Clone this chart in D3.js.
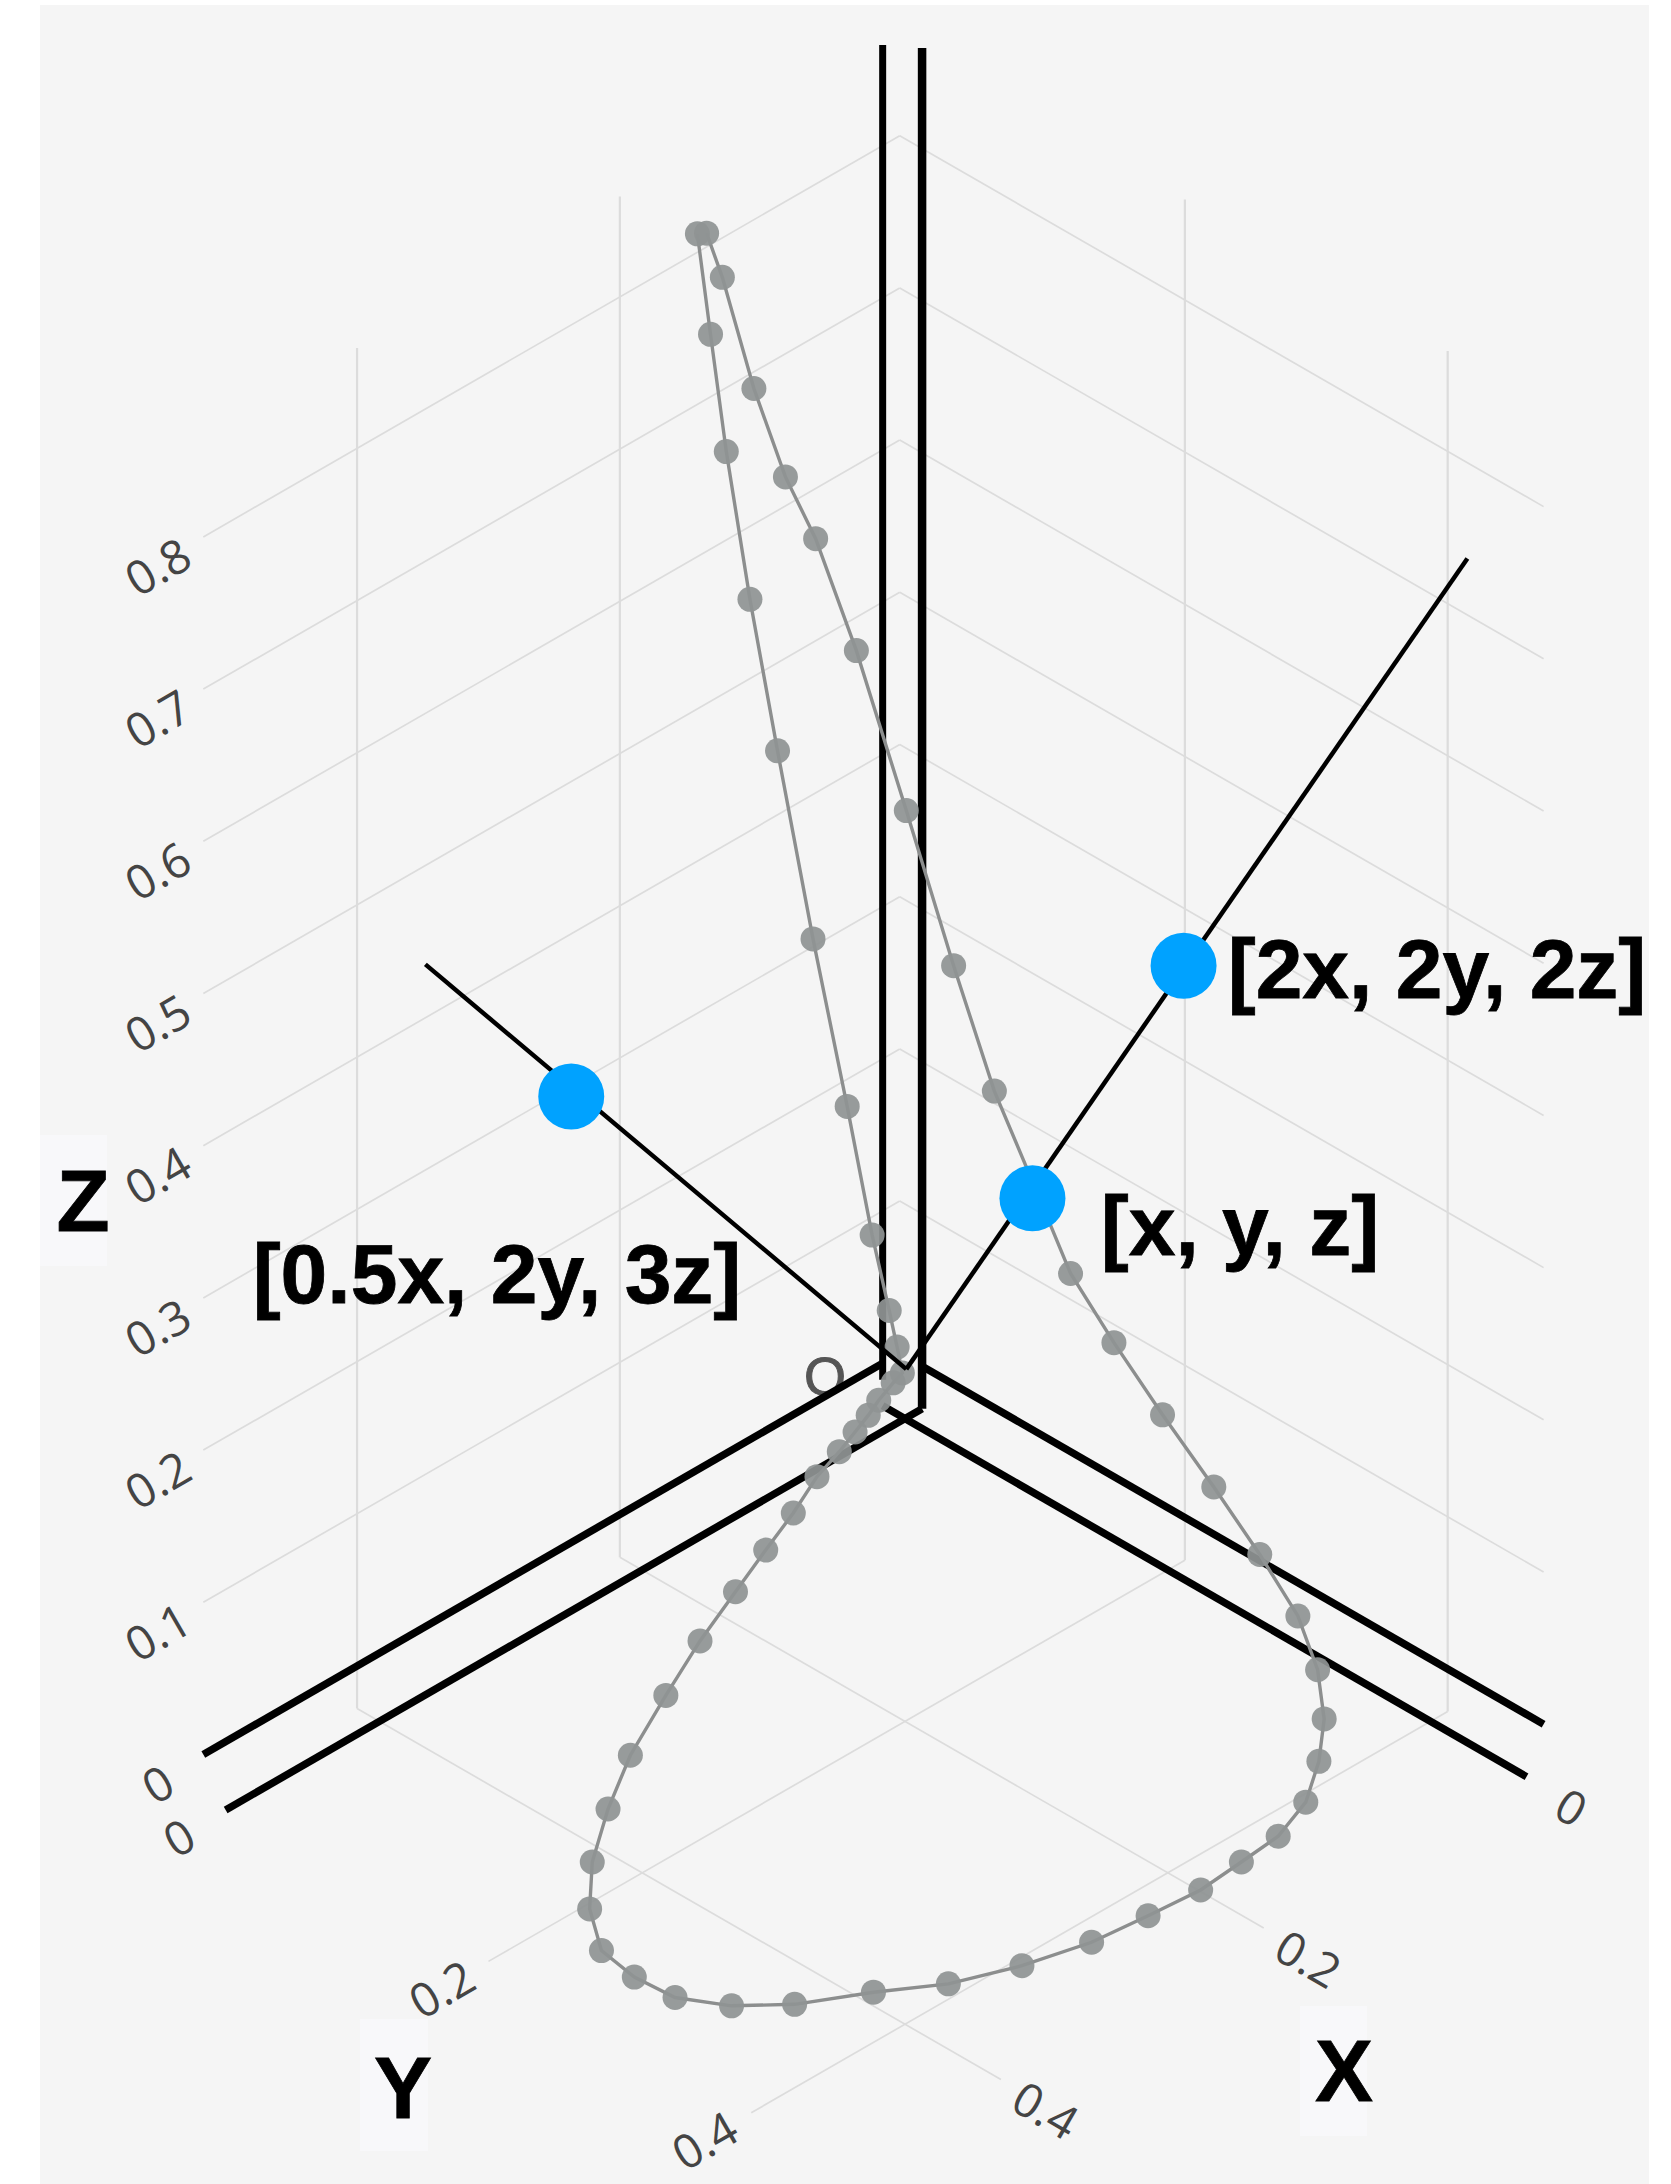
<!DOCTYPE html>
<html>
<head>
<meta charset="utf-8">
<title>3D curve</title>
<script src="https://cdn.jsdelivr.net/npm/d3@7/dist/d3.min.js"></script>
<style>
  html, body { margin: 0; padding: 0; background: #fff; }
  svg { display: block; }
  .big { font-family: "Liberation Sans", Arial, sans-serif; font-weight: 700; fill: #000; stroke: #000; stroke-width: 0.8; }
  .tick { font-family: "Open Sans", sans-serif; fill: #444; font-size: 47px; }
</style>
</head>
<body>
<div id="chart"></div>
<script>
// axis ranges of the cube
const xRange = [-0.013, 0.517];
const yRange = [-0.017, 0.473];
const zRange = [-0.028, 0.866];

const xTicks = [0, 0.2, 0.4];
const yTicks = [0, 0.2, 0.4];
const zTicks = [0, 0.1, 0.2, 0.3, 0.4, 0.5, 0.6, 0.7, 0.8];

// gray curve
const curveX = [0.158, 0.148, 0.136, 0.118, 0.097, 0.070, 0.044, 0.025, 0.012, 0.006, 0.002,
  0.009, 0.026, 0.040, 0.056, 0.075, 0.100, 0.133, 0.168, 0.207, 0.253, 0.302, 0.355, 0.399, 0.440, 0.472,
  0.495, 0.500, 0.498, 0.482, 0.457, 0.419, 0.385, 0.345, 0.303, 0.264, 0.227, 0.193, 0.162, 0.129, 0.097,
  0.067, 0.037, 0.009, 0, 0, 0, 0, 0, 0, 0, 0, 0,
  0.037, 0.068, 0.091, 0.115, 0.139, 0.151];
const curveY = [0, 0, 0, 0, 0, 0, 0, 0, 0, 0, 0,
  0, 0.006, 0.012, 0.018, 0.025, 0.033, 0.048, 0.062, 0.078, 0.097, 0.120, 0.146, 0.173, 0.202, 0.232,
  0.264, 0.294, 0.323, 0.350, 0.373, 0.395, 0.418, 0.434, 0.445, 0.449, 0.452, 0.449, 0.446, 0.434, 0.412,
  0.386, 0.351, 0.308, 0.270, 0.235, 0.196, 0.159, 0.126, 0.097, 0.068, 0.037, 0.001,
  0, 0, 0, 0, 0, 0];
const curveZ = [0.829, 0.758, 0.675, 0.569, 0.459, 0.322, 0.199, 0.105, 0.049, 0.022, 0.003,
  0, 0, 0, 0, 0, 0, 0, 0, 0, 0, 0, 0, 0, 0, 0,
  0, 0, 0, 0, 0, 0, 0, 0, 0, 0, 0, 0, 0, 0, 0,
  0, 0, 0, 0.017, 0.044, 0.072, 0.101, 0.130, 0.176, 0.221, 0.288, 0.372,
  0.495, 0.584, 0.636, 0.706, 0.791, 0.826];

// hand drawn vectors from the origin and the blue points on them
const vecOrigin = [0, 0.001, 0.005];
const vecEnds = [[0, 0.428, 0.750], [0.365, 0, 0.452]];
const bluePoints = [[0, 0.212, 0.375], [0, 0.097, 0.165], [0.254, 0, 0.310]];

const width = 1671, height = 2184;
const panel = {left: 40, top: 5, right: 1649};

const svg = d3.select("#chart").append("svg")
    .attr("width", width)
    .attr("height", height);

// oblique view of the cube: x goes down-left, y goes down-right, z goes up
const origin = [905, 1376];
const across = d3.scaleLinear().domain([0, 1]).range([0, 1314]);
const down = d3.scaleLinear().domain([0, 1]).range([0, 757]);
const up = d3.scaleLinear().domain([0, 1]).range([0, 1522]);

function project(p) {
    return [
        origin[0] + across(p[1]) - across(p[0]),
        origin[1] + down(p[0]) + down(p[1]) - up(p[2])
    ];
}

const line = d3.line().x(d => project(d)[0]).y(d => project(d)[1]);

svg.append("rect")
    .attr("x", panel.left)
    .attr("y", panel.top)
    .attr("width", panel.right - panel.left)
    .attr("height", height - panel.top)
    .attr("fill", "#f5f5f5");

// thin grid
const grid = [];
zTicks.filter(z => z !== 0).forEach(z => {
    grid.push({pts: [[xRange[0], yRange[0], z], [xRange[1], yRange[0], z]], w: 1.7});
    grid.push({pts: [[xRange[0], yRange[0], z], [xRange[0], yRange[1], z]], w: 1.7});
});
xTicks.filter(x => x !== 0).forEach(x => {
    grid.push({pts: [[x, yRange[0], zRange[0]], [x, yRange[1], zRange[0]]], w: 1.7});
    grid.push({pts: [[x, yRange[0], zRange[0]], [x, yRange[0], zRange[1]]], w: 2.2});
});
yTicks.filter(y => y !== 0).forEach(y => {
    grid.push({pts: [[xRange[0], y, zRange[0]], [xRange[1], y, zRange[0]]], w: 1.7});
    grid.push({pts: [[xRange[0], y, zRange[0]], [xRange[0], y, zRange[1]]], w: 2.2});
});

svg.selectAll(".grid")
    .data(grid)
    .enter().append("path")
    .attr("class", "grid")
    .attr("d", d => line(d.pts))
    .attr("fill", "none")
    .attr("stroke", "#dcdcdc")
    .attr("stroke-width", d => d.w);

// tick labels
function tickFmt(v) { return v === 0 ? "0" : String(v); }

function addLabels(values, toPoint, dx, dy, angle) {
    svg.selectAll(null)
        .data(values)
        .enter().append("text")
        .attr("class", "tick")
        .attr("text-anchor", "middle")
        .attr("dominant-baseline", "central")
        .attr("transform", d => {
            const p = project(toPoint(d));
            return `translate(${p[0] + dx},${p[1] + dy}) rotate(${angle})`;
        })
        .text(tickFmt);
}
addLabels(zTicks, z => [xRange[1], yRange[0], z], -46, 29, -30);
addLabels(yTicks, y => [xRange[1], y, zRange[0]], -47, 27, -30);
addLabels(xTicks, x => [x, yRange[1], zRange[0]], 45, 30, 30);

svg.append("text")
    .attr("x", 825)
    .attr("y", 1395)
    .attr("text-anchor", "middle")
    .style("font-family", "Liberation Sans, Arial, sans-serif")
    .style("font-size", "54px")
    .attr("fill", "#555")
    .attr("stroke", "#555")
    .attr("stroke-width", 1)
    .text("O");

// thick zero lines
const zStub = -0.011;
const zeroLines = [
    {pts: [[0, yRange[0], zStub], [0, yRange[0], zRange[1]]], w: 7},
    {pts: [[xRange[0], 0, zRange[0]], [xRange[0], 0, zRange[1]]], w: 8.5},
    {pts: [[0, yRange[0], 0], [xRange[1], yRange[0], 0]], w: 7.5},
    {pts: [[xRange[0], 0, 0], [xRange[0], yRange[1], 0]], w: 7.5},
    {pts: [[xRange[0], 0, zRange[0]], [xRange[1], 0, zRange[0]]], w: 7.5},
    {pts: [[0, yRange[0], zRange[0]], [0, yRange[1], zRange[0]]], w: 7.5}
];

svg.selectAll(".zero")
    .data(zeroLines)
    .enter().append("path")
    .attr("class", "zero")
    .attr("d", d => line(d.pts))
    .attr("fill", "none")
    .attr("stroke", "#000")
    .attr("stroke-width", d => d.w);

// gray curve
const curve = curveX.map((x, i) => [x, curveY[i], curveZ[i]]);

svg.append("path")
    .datum(curve)
    .attr("d", line)
    .attr("fill", "none")
    .attr("stroke", "#8c8e8e")
    .attr("stroke-width", 3.4);

svg.selectAll(".dot")
    .data(curve)
    .enter().append("circle")
    .attr("class", "dot")
    .attr("cx", d => project(d)[0])
    .attr("cy", d => project(d)[1])
    .attr("r", 12.5)
    .attr("fill", "#8f9393")
    .attr("fill-opacity", 0.93);

// vectors and blue points
svg.selectAll(".vec")
    .data(vecEnds)
    .enter().append("path")
    .attr("class", "vec")
    .attr("d", d => line([vecOrigin, d]))
    .attr("fill", "none")
    .attr("stroke", "#000")
    .attr("stroke-width", 4.5);

svg.selectAll(".blue")
    .data(bluePoints)
    .enter().append("circle")
    .attr("class", "blue")
    .attr("cx", d => project(d)[0])
    .attr("cy", d => project(d)[1])
    .attr("r", 33)
    .attr("fill", "#00a2ff");

// axis name patches and captions
const patches = [
    {x: 40, y: 1135, w: 67, h: 131},
    {x: 360, y: 2019, w: 68, h: 132},
    {x: 1300, y: 2006, w: 67, h: 130}
];
svg.selectAll(".patch")
    .data(patches)
    .enter().append("rect")
    .attr("class", "patch")
    .attr("x", d => d.x)
    .attr("y", d => d.y)
    .attr("width", d => d.w)
    .attr("height", d => d.h)
    .attr("fill", "#f8f8fa");

const captions = [
    {t: "Z", x: 83, y: 1231, s: 87},
    {t: "Y", x: 403, y: 2118, s: 87},
    {t: "X", x: 1344, y: 2101, s: 87},
    {t: "[2x, 2y, 2z]", x: 1437, y: 998, s: 84},
    {t: "[x, y, z]", x: 1240, y: 1255, s: 84},
    {t: "[0.5x, 2y, 3z]", x: 497, y: 1303, s: 84}
];
svg.selectAll(".big")
    .data(captions)
    .enter().append("text")
    .attr("class", "big")
    .attr("text-anchor", "middle")
    .attr("x", d => d.x)
    .attr("y", d => d.y)
    .style("font-size", d => d.s + "px")
    .text(d => d.t);
</script>
</body>
</html>
